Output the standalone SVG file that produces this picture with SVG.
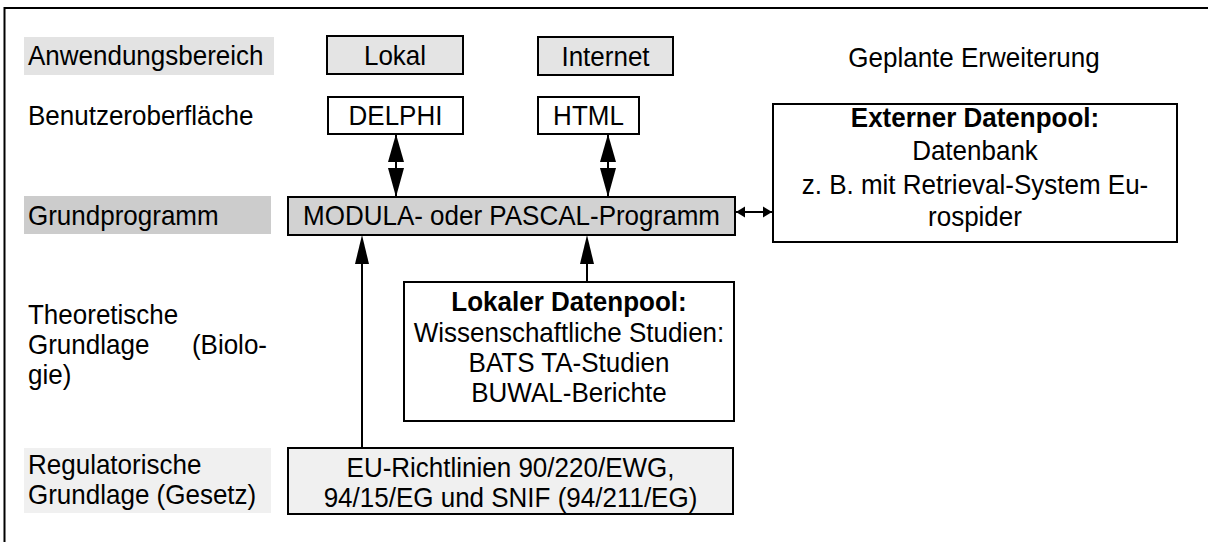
<svg xmlns="http://www.w3.org/2000/svg" width="1208" height="542" viewBox="0 0 1208 542">
  <style>
    text { font-family: "Liberation Sans", Arial, Helvetica, sans-serif; font-size: 26px; fill: #000;
           transform-box: fill-box; transform-origin: 50% 81%; transform: scaleY(1.08); }
    .c { text-anchor: middle; }
    .b { font-weight: bold; }
    .box { stroke: #000; stroke-width: 2; }
    .w { fill: #fff; }
    .g1 { fill: #e4e4e4; }
    .g2 { fill: #d2d2d2; }
    .g3 { fill: #f0f0f0; }
    .link { stroke: #000; stroke-width: 2; fill: none; }
    .head { fill: #000; stroke: none; }
  </style>

  <!-- outer frame -->
  <rect x="4.5" y="8" width="1300" height="600" fill="#fff" stroke="#000" stroke-width="2"/>

  <!-- row labels -->
  <g id="lbl-anwendung">
    <rect x="24" y="37" width="250" height="38" fill="#e3e3e3"/>
    <text x="28" y="65">Anwendungsbereich</text>
  </g>
  <g id="lbl-benutzer">
    <text x="28" y="125">Benutzeroberfläche</text>
  </g>
  <g id="lbl-grundprogramm">
    <rect x="24" y="196" width="247" height="38" fill="#cccccc"/>
    <text x="28" y="225">Grundprogramm</text>
  </g>
  <g id="lbl-theoretisch">
    <text x="28" y="324">Theoretische</text>
    <text x="28" y="354">Grundlage</text>
    <text x="267" y="354" text-anchor="end">(Biolo-</text>
    <text x="28" y="384">gie)</text>
  </g>
  <g id="lbl-regulatorisch">
    <rect x="24" y="448" width="247" height="65" fill="#f0f0f0"/>
    <text x="28" y="474">Regulatorische</text>
    <text x="28" y="504">Grundlage (Gesetz)</text>
  </g>
  <g id="lbl-geplant">
    <text class="c" x="974" y="67">Geplante Erweiterung</text>
  </g>

  <!-- nodes -->
  <g id="lokal">
    <rect class="box g1" x="327" y="36" width="136" height="38"/>
    <text class="c" x="395" y="65">Lokal</text>
  </g>
  <g id="internet">
    <rect class="box g1" x="538" y="37" width="135" height="38"/>
    <text class="c" x="605.5" y="66">Internet</text>
  </g>
  <g id="delphi">
    <rect class="box w" x="328" y="97" width="135" height="37"/>
    <text class="c" x="395.5" y="125">DELPHI</text>
  </g>
  <g id="html">
    <rect class="box w" x="538" y="97" width="101" height="37"/>
    <text class="c" x="588.5" y="125">HTML</text>
  </g>
  <g id="programm">
    <rect class="box g2" x="288" y="197" width="447" height="38"/>
    <text class="c" x="511.5" y="225">MODULA- oder PASCAL-Programm</text>
  </g>
  <g id="extern">
    <rect class="box w" x="773" y="104" width="404" height="138"/>
    <text class="c b" x="975" y="127">Externer Datenpool:</text>
    <text class="c" x="975" y="160">Datenbank</text>
    <text class="c" x="975" y="194">z. B. mit Retrieval-System Eu-</text>
    <text class="c" x="975" y="226">rospider</text>
  </g>
  <g id="lokal-pool">
    <rect class="box w" x="404" y="282" width="330" height="139"/>
    <text class="c b" x="569" y="311">Lokaler Datenpool:</text>
    <text class="c" x="569" y="342">Wissenschaftliche Studien:</text>
    <text class="c" x="569" y="372">BATS TA-Studien</text>
    <text class="c" x="569" y="402">BUWAL-Berichte</text>
  </g>
  <g id="richtlinien">
    <rect class="box g3" x="288" y="448" width="445" height="66"/>
    <text class="c" x="510.5" y="477">EU-Richtlinien 90/220/EWG,</text>
    <text class="c" x="510.5" y="507">94/15/EG und SNIF (94/211/EG)</text>
  </g>

  <!-- connectors -->
  <g id="connectors">
    <!-- DELPHI <-> programm -->
    <line class="link" x1="396" y1="134" x2="396" y2="197"/>
    <polygon class="head" points="396,134 388,162 404,162"/>
    <polygon class="head" points="396,197 388,168 404,168"/>
    <!-- HTML <-> programm -->
    <line class="link" x1="608" y1="134" x2="608" y2="197"/>
    <polygon class="head" points="608,134 600,162 616,162"/>
    <polygon class="head" points="608,197 600,168 616,168"/>
    <!-- programm <-> extern -->
    <line class="link" x1="736" y1="212" x2="772" y2="212"/>
    <polygon class="head" points="736,212 745,206.5 745,217.5"/>
    <polygon class="head" points="772,212 763,206.5 763,217.5"/>
    <!-- richtlinien -> programm -->
    <line class="link" x1="362" y1="448" x2="362" y2="240"/>
    <polygon class="head" points="362,235 355,264 369,264"/>
    <!-- lokal-pool -> programm -->
    <line class="link" x1="587" y1="282" x2="587" y2="240"/>
    <polygon class="head" points="587,235 580,264 594,264"/>
  </g>
</svg>
